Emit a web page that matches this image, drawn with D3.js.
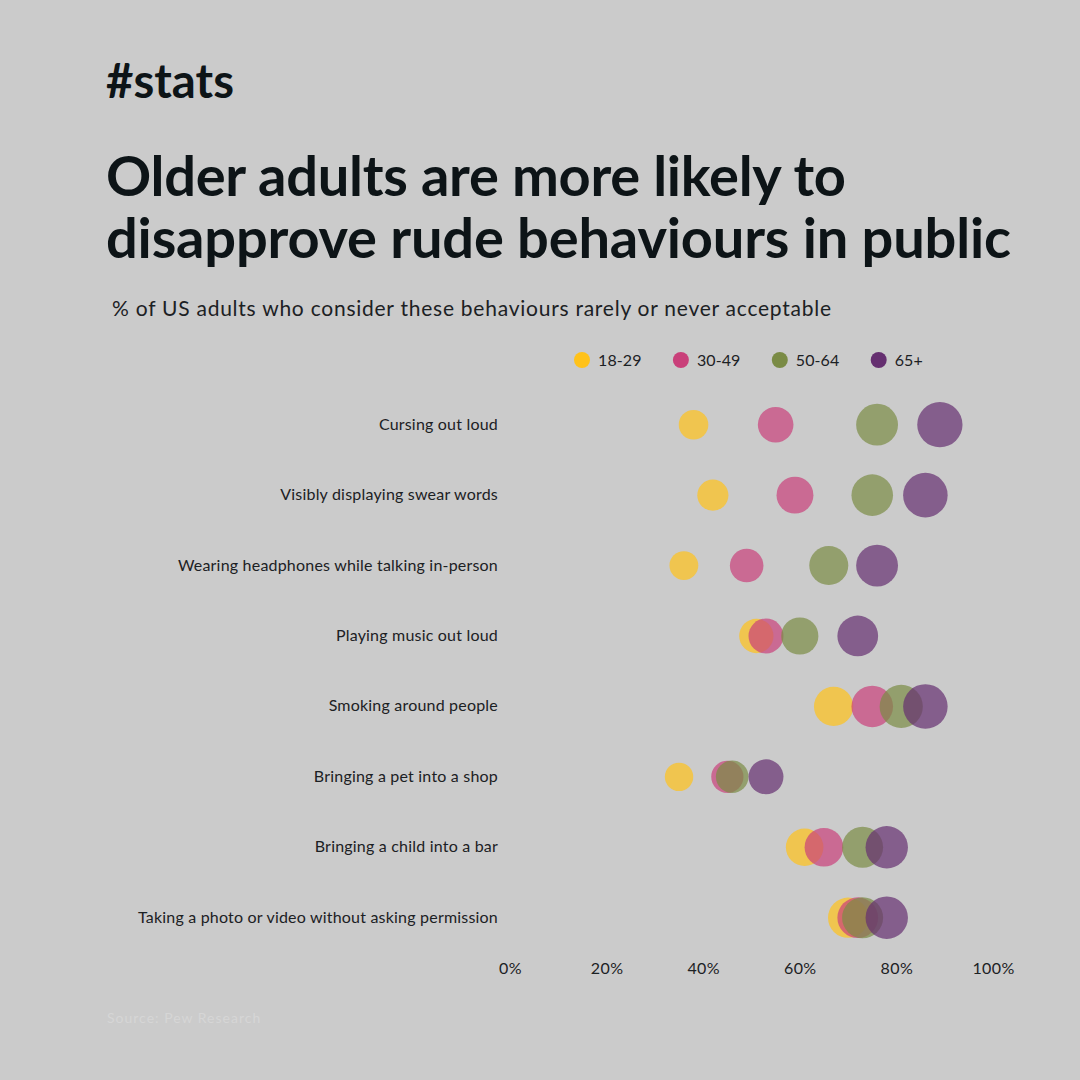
<!DOCTYPE html>
<html>
<head>
<meta charset="utf-8">
<script src="https://cdn.jsdelivr.net/npm/d3@7"></script>
<style>
  html, body { margin: 0; padding: 0; background: #cbcbcb; }
  svg { display: block; font-family: Lato, 'Open Sans', sans-serif; }
</style>
</head>
<body>
<svg id="chart" width="1080" height="1080"></svg>
<script>
// data
const behaviours = [
  'Cursing out loud',
  'Visibly displaying swear words',
  'Wearing headphones while talking in-person',
  'Playing music out loud',
  'Smoking around people',
  'Bringing a pet into a shop',
  'Bringing a child into a bar',
  'Taking a photo or video without asking permission'
]
const ageGroups = ['18-29', '30-49', '50-64', '65+']
const age18_29 = [38, 42, 36, 51, 67, 35, 61, 70]
const age30_49 = [55, 59, 49, 53, 75, 45, 65, 72]
const age50_64 = [76, 75, 66, 60, 81, 46, 73, 73]
const age65plus = [89, 86, 76, 72, 86, 53, 78, 78]
const xTicks = [0, 20, 40, 60, 80, 100]

const seriesValues = [age18_29, age30_49, age50_64, age65plus]
const colors = ['#ffc21a', '#c9407a', '#7a8b45', '#652f70']

const svg = d3.select('#chart')
const W = 1080, H = 1080

svg.append('rect').attr('width', W).attr('height', H).attr('fill', '#cbcbcb')

// stretch a line of text to a given width with letter spacing
function fitWidth(sel, target) {
  const node = sel.node()
  const n = sel.text().length
  const w = node.getComputedTextLength()
  sel.attr('letter-spacing', (target - w) / (n - 1))
}
// or grow the font instead
function fitSize(sel, target) {
  const size = +sel.attr('font-size')
  const w = sel.node().getComputedTextLength()
  sel.attr('font-size', size * target / w)
}

// headings
svg.append('text')
  .attr('x', 106).attr('y', 98)
  .attr('font-size', 37).attr('font-weight', 700)
  .attr('fill', '#0d1417')
  .text('#stats')
  .call(fitSize, 128)

const titleLines = ['Older adults are more likely to', 'disapprove rude behaviours in public']
const titleWidths = [740, 905]
titleLines.forEach((line, i) => {
  svg.append('text')
    .attr('x', 106).attr('y', 196 + i * 62)
    .attr('font-size', 56).attr('font-weight', 700)
    .attr('fill', '#0d1417')
    .text(line)
    .call(fitWidth, titleWidths[i])
})

svg.append('text')
  .attr('x', 112).attr('y', 316)
  .attr('font-size', 21)
  .attr('fill', '#1c2124')
  .text('% of US adults who consider these behaviours rarely or never acceptable')
  .call(fitWidth, 719)

// scales
const x = d3.scaleLinear().domain([0, 100]).range([510, 993])
const y = d3.scalePoint().domain(behaviours).range([424.7, 917.7])
const r = d3.scaleSqrt().domain([0, 100]).range([0, 24])
const color = d3.scaleOrdinal().domain(ageGroups).range(colors)

// legend
const legend = svg.append('g').attr('transform', 'translate(582,360)')
  .selectAll('g')
  .data(ageGroups)
  .join('g')
  .attr('transform', (d, i) => `translate(${i * 98.9},0)`)
legend.append('circle').attr('r', 8).attr('fill', d => color(d))
legend.append('text')
  .attr('x', 16).attr('dy', '0.35em')
  .attr('font-size', 16).attr('letter-spacing', 0.1).attr('fill', '#1c2124')
  .text(d => d)

// row labels
const yAxis = d3.axisLeft(y).tickSize(0).tickPadding(0)
svg.append('g')
  .attr('transform', 'translate(498,0)')
  .call(yAxis)
  .attr('font-family', null).attr('font-size', null)
  .call(g => g.select('.domain').remove())
  .call(g => g.selectAll('text')
    .attr('font-size', 16).attr('letter-spacing', 0.2)
    .attr('fill', '#1c2124').attr('dy', '0.28em'))

// x axis
const xAxis = d3.axisBottom(x).tickValues(xTicks).tickSize(0).tickPadding(0)
  .tickFormat(d => d + '%')
svg.append('g')
  .attr('transform', 'translate(0,963)')
  .call(xAxis)
  .attr('font-family', null).attr('font-size', null)
  .call(g => g.select('.domain').remove())
  .call(g => g.selectAll('text')
    .attr('font-size', 16).attr('letter-spacing', 0.4)
    .attr('fill', '#1c2124'))

// dots, one group per age band so older ones sit on top
const points = []
ageGroups.forEach((age, a) => {
  behaviours.forEach((b, i) => {
    points.push({ age: age, behaviour: b, value: seriesValues[a][i] })
  })
})

svg.append('g')
  .selectAll('circle')
  .data(points)
  .join('circle')
  .attr('cx', d => x(d.value))
  .attr('cy', d => y(d.behaviour))
  .attr('r', d => r(d.value))
  .attr('fill', d => color(d.age))
  .attr('fill-opacity', 0.7)

// source
svg.append('text')
  .attr('x', 107).attr('y', 1023)
  .attr('font-size', 14).attr('letter-spacing', 1)
  .attr('fill', '#d6d6d6')
  .text('Source: Pew Research')
</script>
</body>
</html>
